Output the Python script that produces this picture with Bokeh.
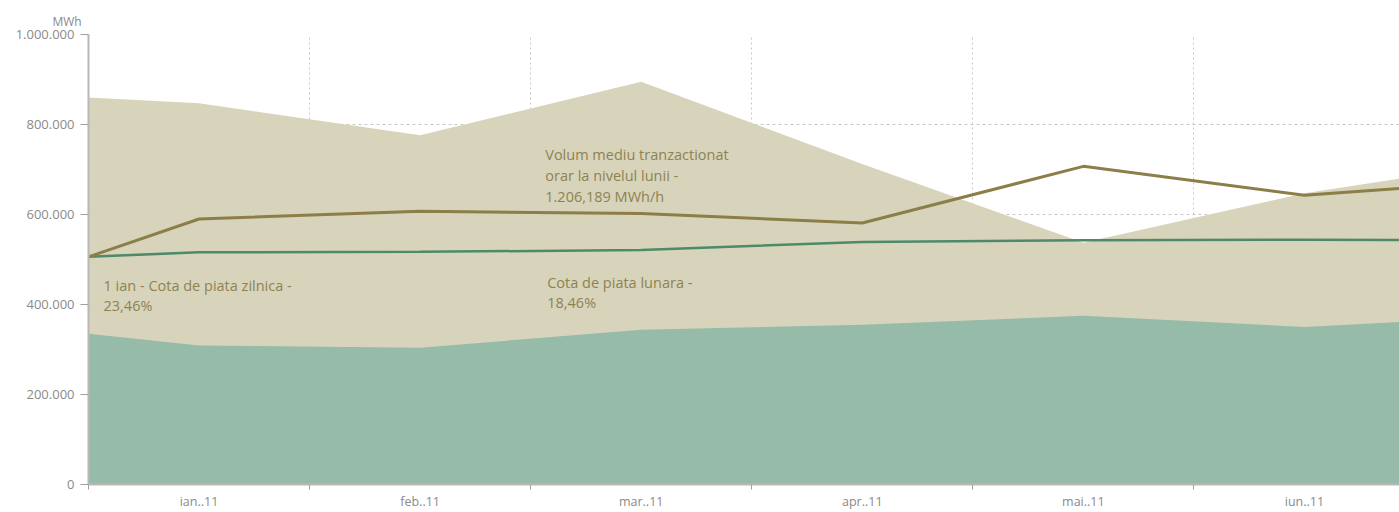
from bokeh.plotting import figure
from bokeh.models import FixedTicker, Label, Title
from bokeh.embed import file_html
from bokeh.resources import INLINE

# ---- data ----
months = ["ian..11", "feb..11", "mar..11", "apr..11", "mai..11", "iun..11"]
# x positions: first point is 1 ian (left edge), then monthly points, then continuation
x_pos = [-0.5, 0, 1, 2, 3, 4, 5, 5.5]
volum_total = [860000, 847000, 776000, 895000, 712000, 537000, 647000, 685000]      # beige area
volum_cota = [335000, 309000, 304000, 344000, 355000, 375000, 350000, 363000]       # teal area
volum_mediu_orar = [506000, 590000, 607000, 602000, 581000, 707000, 643000, 660000] # olive line
cota_line = [506000, 516000, 517000, 521000, 539000, 543000, 544000, 543000]        # green line
y_ticks = [0, 200000, 400000, 600000, 800000, 1000000]
y_tick_labels = ["0", "200.000", "400.000", "600.000", "800.000", "1.000.000"]

BEIGE = "#D8D4BB"
TEAL = "#96BBA8"
OLIVE = "#8C7E48"
GREEN = "#4C8A68"
TXT = "#8E8250"
GRAY = "#8A8A8A"
FONT = "Open Sans"

p = figure(width=1399, height=512, output_backend="svg", toolbar_location=None,
           x_range=(-0.5, 5.43), y_range=(0, 1000000),
           min_border_left=88, min_border_right=0, min_border_top=34, min_border_bottom=27)
p.outline_line_color = None
p.background_fill_color = "white"

p.varea(x=x_pos, y1=0, y2=volum_total, fill_color=BEIGE)
p.varea(x=x_pos, y1=0, y2=volum_cota, fill_color=TEAL)
p.line(x_pos, cota_line, line_color=GREEN, line_width=2.5)
p.line(x_pos, volum_mediu_orar, line_color=OLIVE, line_width=3)

# y axis
p.yaxis.ticker = FixedTicker(ticks=y_ticks)
p.yaxis.major_label_overrides = {t: l for t, l in zip(y_ticks, y_tick_labels)}
p.yaxis.major_label_text_font = FONT
p.yaxis.major_label_text_font_size = "13px"
p.yaxis.major_label_text_color = GRAY
p.yaxis.axis_line_color = "#B8B8B8"
p.yaxis.axis_line_width = 2
p.yaxis.major_tick_line_color = "#A0A0A0"
p.yaxis.major_tick_out = 8
p.yaxis.major_tick_in = 0
p.yaxis.minor_tick_line_color = None
p.yaxis.major_label_standoff = 6

# x axis: labels at month centres, ticks at boundaries
centers = list(range(len(months)))
bounds = [c + 0.5 for c in centers] + [-0.5]
p.xaxis.ticker = FixedTicker(ticks=centers, minor_ticks=bounds)
p.xaxis.major_label_overrides = {c: m for c, m in zip(centers, months)}
p.xaxis.major_label_text_font = FONT
p.xaxis.major_label_text_font_size = "12.5px"
p.xaxis.major_label_text_color = GRAY
p.xaxis.major_tick_line_color = None
p.xaxis.major_tick_out = 0
p.xaxis.major_tick_in = 0
p.xaxis.minor_tick_line_color = "#A0A0A0"
p.xaxis.minor_tick_out = 5
p.xaxis.minor_tick_in = 0
p.xaxis.axis_line_color = "#B8B8B8"
p.xaxis.axis_line_width = 2
p.xaxis.major_label_standoff = 3

# grids
p.xgrid.ticker = FixedTicker(ticks=[c + 0.5 for c in centers[:-1]])
p.xgrid.grid_line_color = "#C8C8C8"
p.xgrid.grid_line_dash = "2 3"
p.ygrid.ticker = FixedTicker(ticks=y_ticks[1:])
p.ygrid.grid_line_color = "#C8C8C8"
p.ygrid.grid_line_dash = "3 3"

# unit label above the axis
p.add_layout(Title(text="MWh", align="left", offset=-36, text_font=FONT,
                   text_font_size="12px", text_color=GRAY, text_font_style="normal",
                   standoff=10), "above")

def add_lines(x, ys, lines):
    for yy, t in zip(ys, lines):
        p.add_layout(Label(x=x, y=yy, text=t, text_font=FONT, text_font_size="14.5px",
                           text_color=TXT, text_baseline="middle", text_align="left"))

add_lines(-0.432, [443000, 397000], ["1 ian - Cota de piata zilnica -", "23,46%"])
add_lines(1.566, [734000, 687000, 639000],
          ["Volum mediu tranzactionat", "orar la nivelul lunii -", "1.206,189 MWh/h"])
add_lines(1.575, [448000, 404000], ["Cota de piata lunara -", "18,46%"])

open("out.html", "w").write(file_html(p, INLINE))
